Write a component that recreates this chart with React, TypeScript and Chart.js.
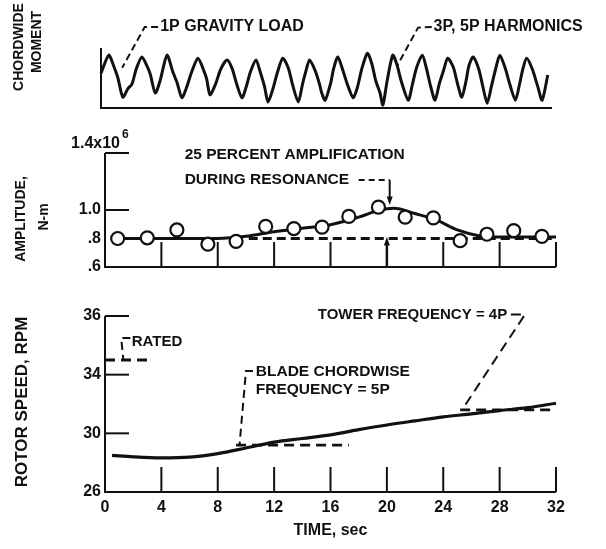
import React, { useEffect, useRef } from 'react';
import { Chart, registerables } from 'chart.js';

Chart.register(...registerables);

const W = 606;
const H = 549;
const FONT = "'Liberation Sans', Arial, sans-serif";
const INK = '#111';

// ---------- Top panel: chordwise moment trace (relative units) ----------
const momentTime = [
  0.0, 0.55, 0.9, 1.2, 1.55, 1.9, 2.2, 2.5, 2.9, 3.3, 3.5, 3.85, 4.2, 4.68, 5.1, 5.4, 5.74, 6.1, 6.4, 6.88,
  7.3, 7.5, 7.73, 8.1, 8.5, 8.94, 9.3, 9.6, 10.0, 10.3, 10.6, 11.0, 11.3, 11.6, 11.85, 12.2, 12.5, 12.9,
  13.3, 13.6, 14.0, 14.3, 14.5, 14.8, 15.2, 15.5, 15.65, 15.9, 16.3, 16.5, 16.8, 17.2, 17.5, 17.9, 18.2,
  18.5, 18.9, 19.2, 19.5, 19.8, 20.0, 20.3, 20.7, 21.0, 21.3, 21.8, 22.1, 22.4, 22.8, 23.1, 23.4, 23.7,
  24.0, 24.3, 24.6, 25.0, 25.3, 25.6, 25.9, 26.1, 26.4, 26.8, 27.1, 27.4, 27.7, 28.0, 28.3, 28.7, 29.0,
  29.4, 29.7, 29.9, 30.2, 30.6, 31.0, 31.3, 31.7,
];
const momentValue = [
  5.8, 8.8, 7.0, 5.0, 1.8, 3.2, 4.0, 6.5, 8.5, 6.8, 5.6, 2.5, 4.6, 8.8, 6.0, 4.2, 1.7, 3.6, 5.8, 8.3,
  6.2, 4.8, 2.2, 3.8, 6.5, 8.0, 6.6, 4.2, 1.7, 3.5, 6.0, 8.0, 6.0, 3.6, 1.0, 3.2, 5.8, 8.3,
  6.6, 3.8, 1.0, 4.0, 5.8, 8.0, 6.2, 4.0, 2.6, 1.3, 4.2, 6.5, 8.5, 6.0, 3.8, 1.7, 3.5,
  6.5, 9.1, 7.5, 4.5, 2.5, 0.5, 4.5, 8.8, 7.2, 4.5, 1.3, 4.0, 6.8, 8.8, 6.5, 3.5, 1.3,
  4.0, 6.2, 8.3, 6.8, 4.0, 1.8, 4.5, 7.0, 8.5, 6.5, 3.5, 0.8, 3.6, 6.5, 8.8, 6.5, 4.0,
  1.3, 4.0, 6.2, 8.3, 6.5, 3.5, 1.3, 5.5,
];

// ---------- Middle panel: moment amplitude, N-m (x 10^6) ----------
const ampTime = [0.9, 3.0, 5.1, 7.3, 9.3, 11.4, 13.4, 15.4, 17.3, 19.4, 21.3, 23.3, 25.2, 27.1, 29.0, 31.0];
const ampValue = [0.80, 0.805, 0.86, 0.76, 0.78, 0.885, 0.87, 0.88, 0.955, 1.02, 0.95, 0.945, 0.785, 0.83, 0.855, 0.815];
const ampFitTime = [0.6, 4, 8, 10, 12, 14, 16, 18, 19.5, 20.5, 22, 23.5, 25, 26.5, 28, 32];
const ampFitValue = [0.80, 0.80, 0.80, 0.815, 0.848, 0.872, 0.897, 0.95, 1.0, 1.012, 0.975, 0.93, 0.86, 0.82, 0.81, 0.81];
const ampBaseTime = [10.2, 32];
const ampBaseValue = [0.80, 0.80];
const ampTickValues = [0.6, 0.8, 1.0];
const ampTickLabels = ['.6', '.8', '1.0'];
const ampAxisMarks = [1.0, 1.4];

// ---------- Bottom panel: rotor speed, rpm ----------
const speedTime = [0.5, 2, 4, 6, 8, 10, 12, 14, 16, 18, 20, 22, 24, 26, 28, 30, 32];
const speedValue = [28.5, 28.4, 28.33, 28.38, 28.62, 29.0, 29.4, 29.65, 29.9, 30.25, 30.57, 30.85, 31.12, 31.33, 31.55, 31.75, 32.05];
const ratedTime = [0, 3.2];
const ratedValue = [35, 35];
const bladeTime = [9.3, 17.3];
const bladeValue = [29.2, 29.2];
const towerTime = [25.2, 32];
const towerValue = [31.6, 31.6];
const speedTickValues = [26, 30, 34, 38];
const speedTickLabels = ['26', '30', '34', '36'];
const speedAxisMarks = [30, 34, 38];

const timeTicks = [0, 4, 8, 12, 16, 20, 24, 28, 32];

// ---------- helpers ----------
const pairs = (xs: number[], ys: number[]) => xs.map((x, i) => ({ x, y: ys[i] }));
const px = (c: any, t: number) => c.scales.x.getPixelForValue(t);
const py = (c: any, v: number) => c.scales.y.getPixelForValue(v);

function polyline(ctx: CanvasRenderingContext2D, pts: number[][], dash: number[], width = 2) {
  ctx.save();
  ctx.strokeStyle = INK;
  ctx.lineWidth = width;
  ctx.setLineDash(dash);
  ctx.beginPath();
  pts.forEach(([x, y], i) => (i ? ctx.lineTo(x, y) : ctx.moveTo(x, y)));
  ctx.stroke();
  ctx.restore();
}

function label(ctx: CanvasRenderingContext2D, s: string, x: number, y: number, size: number,
  align: CanvasTextAlign = 'left', rotate = false) {
  ctx.save();
  ctx.fillStyle = INK;
  ctx.font = `bold ${size}px ${FONT}`;
  ctx.textAlign = align;
  ctx.textBaseline = 'middle';
  ctx.translate(x, y);
  if (rotate) ctx.rotate(-Math.PI / 2);
  ctx.fillText(s, 0, 0);
  ctx.restore();
}

function arrowHead(ctx: CanvasRenderingContext2D, x: number, y: number, dir: number, size = 6) {
  // dir = 1: pointing down (tip at x,y); dir = -1: pointing up
  ctx.save();
  ctx.fillStyle = INK;
  ctx.beginPath();
  ctx.moveTo(x, y);
  ctx.lineTo(x - size / 2, y - dir * size * 1.4);
  ctx.lineTo(x + size / 2, y - dir * size * 1.4);
  ctx.closePath();
  ctx.fill();
  ctx.restore();
}

const tickFont = { family: FONT, size: 16, weight: 'bold' as const };

function hiddenX() {
  return { type: 'linear' as const, min: 0, max: 32, display: false };
}

function baseOptions(padding: any, scales: any) {
  return {
    responsive: false,
    animation: false as const,
    events: [] as any[],
    layout: { padding, autoPadding: false },
    plugins: { legend: { display: false }, tooltip: { enabled: false }, title: { display: false } },
    scales,
  };
}

// ---------- panel decorations ----------
function drawTop(c: any) {
  const ctx: CanvasRenderingContext2D = c.ctx;
  const a = c.chartArea;
  polyline(ctx, [[a.left, a.top], [a.left, a.bottom], [a.right, a.bottom]], [], 2);
  // leaders and notes
  polyline(ctx, [[px(c, 4.05), py(c, 13.5)], [px(c, 3.1), py(c, 13.5)], [px(c, 1.5), py(c, 6.7)]], [7, 4], 2);
  label(ctx, '1P GRAVITY LOAD', px(c, 4.2), py(c, 13.5), 16);
  polyline(ctx, [[px(c, 23.47), py(c, 13.5)], [px(c, 22.5), py(c, 13.4)], [px(c, 21.0), py(c, 7.0)]], [7, 4], 2);
  label(ctx, '3P, 5P HARMONICS', px(c, 23.6), py(c, 13.5), 16);
  // axis title
  label(ctx, 'CHORDWIDE', 19, 47, 14, 'center', true);
  label(ctx, 'MOMENT', 37, 42, 14, 'center', true);
}

function drawMid(c: any) {
  const ctx: CanvasRenderingContext2D = c.ctx;
  const a = c.chartArea;
  const yTop = py(c, 1.4);
  polyline(ctx, [[a.left, yTop], [a.left, a.bottom], [a.right, a.bottom]], [], 2);
  ampAxisMarks.forEach((v) => polyline(ctx, [[a.left, py(c, v)], [a.left + 24, py(c, v)]], [], 2));
  timeTicks.slice(1).forEach((t) => {
    const x = px(c, t);
    if (t === 20) {
      polyline(ctx, [[x, a.bottom], [x, a.bottom - 22]], [], 2.5);
      arrowHead(ctx, x, a.bottom - 30, -1, 6);
    } else {
      polyline(ctx, [[x, a.bottom], [x, a.bottom - 25]], [], 2);
    }
  });
  // magnitude label
  label(ctx, '1.4x10', a.left + 15, yTop - 9, 16, 'right');
  label(ctx, '6', a.left + 17, yTop - 18, 12, 'left');
  // annotation
  label(ctx, '25 PERCENT AMPLIFICATION', px(c, 5.65), py(c, 1.386), 15.5);
  label(ctx, 'DURING RESONANCE', px(c, 5.65), py(c, 1.21), 15.5);
  polyline(ctx, [[px(c, 18.0), py(c, 1.21)], [px(c, 20.2), py(c, 1.21)]], [6, 4], 2);
  polyline(ctx, [[px(c, 20.2), py(c, 1.21)], [px(c, 20.2), py(c, 1.07)]], [], 2);
  arrowHead(ctx, px(c, 20.2), py(c, 1.035), 1, 6);
  // axis title
  label(ctx, 'AMPLITUDE,', 21, 219, 14, 'center', true);
  label(ctx, 'N-m', 44, 217, 14, 'center', true);
}

function drawBot(c: any) {
  const ctx: CanvasRenderingContext2D = c.ctx;
  const a = c.chartArea;
  polyline(ctx, [[a.left, a.top], [a.left, a.bottom], [a.right, a.bottom]], [], 2);
  speedAxisMarks.forEach((v) => polyline(ctx, [[a.left, py(c, v)], [a.left + 24, py(c, v)]], [], 2));
  timeTicks.slice(1).forEach((t) => {
    const x = px(c, t);
    polyline(ctx, [[x, a.bottom], [x, a.bottom - 25]], [], 2);
  });
  // RATED
  polyline(ctx, [[px(c, 1.8), py(c, 36.5)], [px(c, 1.15), py(c, 36.5)], [px(c, 1.3), py(c, 35.05)]], [8, 5], 2);
  label(ctx, 'RATED', px(c, 1.9), py(c, 36.22), 15);
  // blade chordwise
  polyline(ctx, [[px(c, 10.5), py(c, 34.25)], [px(c, 10.0), py(c, 34.25)], [px(c, 9.55), py(c, 29.25)]], [8, 5], 2);
  label(ctx, 'BLADE CHORDWISE', px(c, 10.7), py(c, 34.2), 15.5);
  label(ctx, 'FREQUENCY = 5P', px(c, 10.7), py(c, 32.95), 15.5);
  // tower
  label(ctx, 'TOWER FREQUENCY = 4P', px(c, 15.1), py(c, 38.05), 15);
  polyline(ctx, [[px(c, 28.8), py(c, 38.1)], [px(c, 29.8), py(c, 38.1)], [px(c, 25.4), py(c, 31.7)]], [10, 6], 2);
  // axis titles
  label(ctx, 'ROTOR SPEED, RPM', 22, 402, 17, 'center', true);
  label(ctx, 'TIME, sec', (a.left + a.right) / 2, 531, 16, 'center');
}

const decor = (fn: (c: any) => void) => ({ id: 'decor', afterDraw: fn });

function topConfig(): any {
  return {
    type: 'line',
    data: {
      datasets: [{
        data: pairs(momentTime, momentValue), borderColor: INK, borderWidth: 3,
        pointRadius: 0, tension: 0.25, clip: false,
      }],
    },
    options: baseOptions({ left: 101, right: W - 552, top: 48, bottom: H - 108 }, {
      x: hiddenX(),
      y: { type: 'linear', min: 0, max: 10, display: false },
    }),
    plugins: [decor(drawTop)],
  };
}

function midConfig(): any {
  return {
    type: 'line',
    data: {
      datasets: [
        {
          data: pairs(ampTime, ampValue), showLine: false, pointRadius: 6.5, pointBorderWidth: 2.2,
          pointBackgroundColor: '#fff', pointBorderColor: INK, order: 0, clip: false,
        },
        {
          data: pairs(ampFitTime, ampFitValue), borderColor: INK, borderWidth: 3, pointRadius: 0,
          tension: 0.4, cubicInterpolationMode: 'monotone', order: 1, clip: false,
        },
        {
          data: pairs(ampBaseTime, ampBaseValue), borderColor: INK, borderWidth: 2.8, pointRadius: 0,
          borderDash: [9, 5], order: 2, clip: false,
        },
      ],
    },
    options: baseOptions({ left: 55, right: W - 556, top: 153, bottom: H - 267 }, {
      x: hiddenX(),
      y: {
        type: 'linear', min: 0.6, max: 1.4,
        afterBuildTicks: (s: any) => { s.ticks = ampTickValues.map((v) => ({ value: v })); },
        afterFit: (s: any) => { s.width = 50; },
        grid: { display: false, drawTicks: false }, border: { display: false },
        ticks: {
          color: INK, font: tickFont, padding: 4, autoSkip: false,
          callback: (v: number) => ampTickLabels[ampTickValues.findIndex((t) => Math.abs(t - v) < 1e-6)],
        },
      },
    }),
    plugins: [decor(drawMid)],
  };
}

function botConfig(): any {
  const dashed = (xs: number[], ys: number[]) => ({
    data: pairs(xs, ys), borderColor: INK, borderWidth: 2.8, pointRadius: 0, borderDash: [10, 6], clip: false,
  });
  return {
    type: 'line',
    data: {
      datasets: [
        {
          data: pairs(speedTime, speedValue), borderColor: INK, borderWidth: 3.2, pointRadius: 0,
          tension: 0.4, cubicInterpolationMode: 'monotone', clip: false,
        },
        dashed(ratedTime, ratedValue),
        dashed(bladeTime, bladeValue),
        dashed(towerTime, towerValue),
      ],
    },
    options: baseOptions({ left: 55, right: W - 556, top: 316, bottom: H - 492 - 30 }, {
      x: {
        type: 'linear', min: 0, max: 32,
        afterBuildTicks: (s: any) => { s.ticks = timeTicks.map((v) => ({ value: v })); },
        afterFit: (s: any) => { s.height = 30; },
        grid: { display: false, drawTicks: false }, border: { display: false },
        ticks: { color: INK, font: tickFont, padding: 6, maxRotation: 0, autoSkip: false },
      },
      y: {
        type: 'linear', min: 26, max: 38,
        afterBuildTicks: (s: any) => { s.ticks = speedTickValues.map((v) => ({ value: v })); },
        afterFit: (s: any) => { s.width = 50; },
        grid: { display: false, drawTicks: false }, border: { display: false },
        ticks: {
          color: INK, font: tickFont, padding: 4, autoSkip: false,
          callback: (v: number) => speedTickLabels[speedTickValues.indexOf(v)],
        },
      },
    }),
    plugins: [decor(drawBot)],
  };
}

export default function App() {
  const topRef = useRef<HTMLCanvasElement>(null);
  const midRef = useRef<HTMLCanvasElement>(null);
  const botRef = useRef<HTMLCanvasElement>(null);

  useEffect(() => {
    const charts = [
      new Chart(topRef.current!, topConfig()),
      new Chart(midRef.current!, midConfig()),
      new Chart(botRef.current!, botConfig()),
    ];
    return () => charts.forEach((c) => c.destroy());
  }, []);

  const cs: React.CSSProperties = { position: 'absolute', left: 0, top: 0, width: W, height: H };
  return (
    <div style={{ position: 'absolute', left: 0, top: 0, width: W, height: H, background: '#fff' }}>
      <canvas ref={topRef} width={W} height={H} style={cs} />
      <canvas ref={midRef} width={W} height={H} style={cs} />
      <canvas ref={botRef} width={W} height={H} style={cs} />
    </div>
  );
}
